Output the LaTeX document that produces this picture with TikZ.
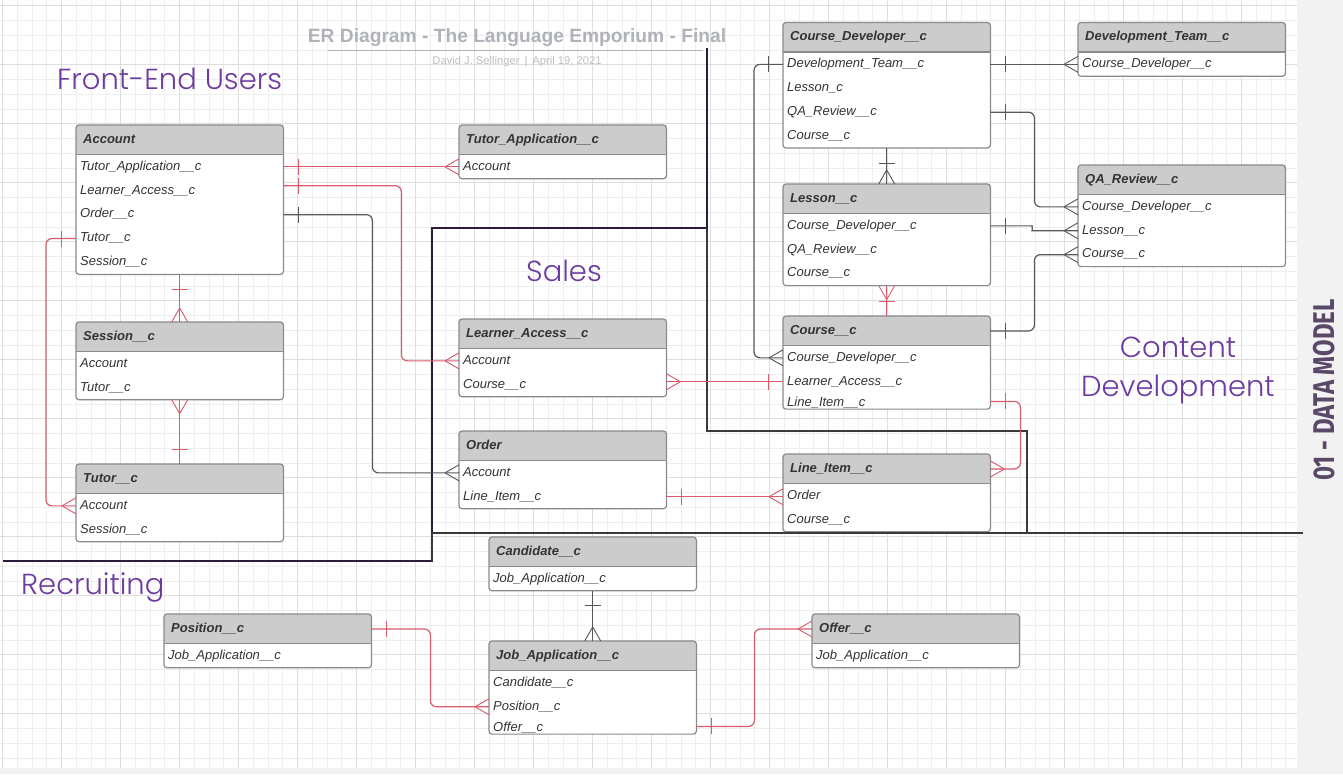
\documentclass[tikz,border=0pt]{standalone}
\usepackage{fontspec}
\setmainfont{Liberation Sans}
\newfontfamily\regionfont{Poppins Light}
\newfontfamily\sidefont[FakeStretch=0.8]{Fira Sans}
\usetikzlibrary{positioning, fit, backgrounds, decorations.markings}
\definecolor{hdrgray}{RGB}{204, 204, 204}
\definecolor{boxgray}{RGB}{138, 138, 138}
\definecolor{fieldtext}{RGB}{51, 51, 51}
\definecolor{relred}{RGB}{216, 92, 108}
\definecolor{relgray}{RGB}{88, 88, 88}
\definecolor{regionpurple}{RGB}{110, 60, 160}
\definecolor{borderdark}{RGB}{44, 28, 60}
\definecolor{bordergray}{RGB}{58, 58, 58}
\definecolor{titlegray}{RGB}{176, 178, 186}
\definecolor{subgray}{RGB}{190, 190, 195}
\definecolor{gridminor}{RGB}{238, 238, 238}
\definecolor{gridmajor}{RGB}{222, 222, 222}
\definecolor{pagegray}{RGB}{242, 242, 242}
\definecolor{sidelabel}{RGB}{90, 72, 104}
\tikzset{
  tblhead/.style   = {rectangle, inner xsep=7pt, inner ysep=0pt, text width=193pt, minimum height=29.5pt, align=left, text height=9.5pt, text depth=3pt, font=\fontsize{13}{15}\selectfont\bfseries\itshape, text=fieldtext},
  tblrow/.style    = {rectangle, inner xsep=4pt, inner ysep=0pt, text width=199pt, minimum height=23.5pt, align=left, text height=9.5pt, text depth=3pt, font=\fontsize{13}{15}\selectfont\itshape, text=fieldtext},
  tbllast/.style   = {tblrow, minimum height=15pt, text height=13pt, text depth=2pt},
  tblbox/.style    = {draw=boxgray, line width=1.2pt, fill=white, rounded corners=3pt, inner sep=0pt,
                      path picture={\fill[hdrgray] (path picture bounding box.north west) rectangle ([yshift=-29.5pt]path picture bounding box.north east);
                                    \draw[boxgray, line width=1.4pt] ([yshift=-29.5pt]path picture bounding box.north west) -- ([yshift=-29.5pt]path picture bounding box.north east);}},
  linkred/.style   = {relred, line width=1.2pt, rounded corners=6pt},
  linkgray/.style  = {relgray, line width=1.2pt, rounded corners=6pt},
  onestart/.style  = {postaction={decorate, decoration={markings, mark=at position 15pt with {\draw[line width=1pt] (0pt,-8pt) -- (0pt,8pt);}}}},
  oneend/.style    = {postaction={decorate, decoration={markings, mark=at position -15pt with {\draw[line width=1pt] (0pt,-8pt) -- (0pt,8pt);}}}},
  manystart/.style = {postaction={decorate, decoration={markings, mark=at position 0pt with {\draw[line width=0.9pt] (14pt,0pt) -- (0pt,8pt) (14pt,0pt) -- (0pt,-8pt);}}}},
  manyend/.style   = {postaction={decorate, decoration={markings, mark=at position 1 with {\draw[line width=0.9pt] (-14pt,0pt) -- (0pt,8pt) (-14pt,0pt) -- (0pt,-8pt);}}}},
  gridfine/.style  = {gridminor, line width=0.8pt},
  gridbold/.style  = {gridmajor, line width=0.9pt},
  regionlbl/.style = {font=\regionfont\fontsize{29}{39}\selectfont, text=regionpurple, inner sep=0pt},
  zonedark/.style  = {borderdark, line width=2pt},
  zonegray/.style  = {bordergray, line width=2pt},
}

\begin{document}
\begin{tikzpicture}[x=1pt, y=-1pt]
  \useasboundingbox (0,0) rectangle (1343,774);
  \begin{scope}[on background layer]
    \fill[pagegray] (0,0) rectangle (1343,774);
    \fill[white] (0,0) rectangle (1297,768);
    \foreach \k in {0,...,87} \draw[gridfine] ({2.5+14.75*\k},0) -- ({2.5+14.75*\k},768);
    \foreach \k in {0,...,51} \draw[gridfine] (0,{5.7+14.75*\k}) -- (1297,{5.7+14.75*\k});
    \foreach \k in {0,...,21} \draw[gridbold] ({2.5+59*\k},0) -- ({2.5+59*\k},768);
    \foreach \k in {0,...,12} \draw[gridbold] (0,{5.7+59*\k}) -- (1297,{5.7+59*\k});
  \end{scope}

  % title block
  \node[font=\fontsize{19.2}{22}\selectfont\bfseries, text=titlegray] (title) at (517,38) {ER Diagram - The Language Emporium - Final};
  \draw[titlegray, line width=1.5pt] (328,50.7) -- (703,50.7);
  \node[font=\fontsize{11.2}{13}\selectfont, text=subgray] (subtitle) at (517,62) {David J. Sellinger \,|\, April 19, 2021};

  % zones
  \draw[zonedark] (3,561) -- (432,561) -- (432,228) -- (707,228) -- (707,48);
  \draw[zonegray] (707,228) -- (707,431) -- (1027,431) -- (1027,533);
  \draw[zonegray] (432,561) -- (432,533) -- (1303,533);
  \node[regionlbl, anchor=base west] (lbl-feu) at (57,89) {Front-End Users};
  \node[regionlbl, anchor=base] (lbl-sales) at (564,281) {Sales};
  \node[regionlbl, align=center] (lbl-cdev) at (1178,370) {Content\\Development};
  \node[regionlbl, anchor=base west] (lbl-recr) at (21,594) {Recruiting};
  \node[rotate=90, font=\sidefont\bfseries\fontsize{30}{30}\selectfont, text=sidelabel] (lbl-side) at (1324,390) {01 - DATA MODEL};

  % Front-End Users
  \node[tblhead, anchor=north west] (acct) at (76,125) {Account};
  \node[tblrow, below=0pt of acct] (acct-tapp) {Tutor\_Application\_\_c};
  \node[tblrow, below=0pt of acct-tapp] (acct-lacc) {Learner\_Access\_\_c};
  \node[tblrow, below=0pt of acct-lacc] (acct-ord) {Order\_\_c};
  \node[tblrow, below=0pt of acct-ord] (acct-tut) {Tutor\_\_c};
  \node[tblrow, below=0pt of acct-tut] (acct-ses) {Session\_\_c};

  \node[tblhead, anchor=north west] (tapp) at (459,125) {Tutor\_Application\_\_c};
  \node[tblrow, below=0pt of tapp] (tapp-acct) {Account};

  \node[tblhead, anchor=north west] (ses) at (76,322) {Session\_\_c};
  \node[tblrow, below=0pt of ses] (ses-acct) {Account};
  \node[tblrow, below=0pt of ses-acct] (ses-tut) {Tutor\_\_c};

  \node[tblhead, anchor=north west] (tut) at (76,464) {Tutor\_\_c};
  \node[tblrow, below=0pt of tut] (tut-acct) {Account};
  \node[tblrow, below=0pt of tut-acct] (tut-ses) {Session\_\_c};

  % Sales
  \node[tblhead, anchor=north west] (lacc) at (459,319) {Learner\_Access\_\_c};
  \node[tblrow, below=0pt of lacc] (lacc-acct) {Account};
  \node[tblrow, below=0pt of lacc-acct] (lacc-crs) {Course\_\_c};

  \node[tblhead, anchor=north west] (ord) at (459,431) {Order};
  \node[tblrow, below=0pt of ord] (ord-acct) {Account};
  \node[tblrow, below=0pt of ord-acct] (ord-li) {Line\_Item\_\_c};

  % Content Development
  \node[tblhead, anchor=north west] (cdev) at (783,22.5) {Course\_Developer\_\_c};
  \node[tblrow, below=0pt of cdev] (cdev-dt) {Development\_Team\_\_c};
  \node[tblrow, below=0pt of cdev-dt] (cdev-les) {Lesson\_c};
  \node[tblrow, below=0pt of cdev-les] (cdev-qa) {QA\_Review\_\_c};
  \node[tblrow, below=0pt of cdev-qa] (cdev-crs) {Course\_\_c};

  \node[tblhead, anchor=north west] (dt) at (1078,22.5) {Development\_Team\_\_c};
  \node[tblrow, below=0pt of dt] (dt-cdev) {Course\_Developer\_\_c};

  \node[tblhead, anchor=north west] (qa) at (1078,165) {QA\_Review\_\_c};
  \node[tblrow, below=0pt of qa] (qa-cdev) {Course\_Developer\_\_c};
  \node[tblrow, below=0pt of qa-cdev] (qa-les) {Lesson\_\_c};
  \node[tblrow, below=0pt of qa-les] (qa-crs) {Course\_\_c};

  \node[tblhead, anchor=north west] (les) at (783,184) {Lesson\_\_c};
  \node[tblrow, below=0pt of les] (les-cdev) {Course\_Developer\_\_c};
  \node[tblrow, below=0pt of les-cdev] (les-qa) {QA\_Review\_\_c};
  \node[tblrow, below=0pt of les-qa] (les-crs) {Course\_\_c};

  \node[tblhead, anchor=north west] (crs) at (783,316) {Course\_\_c};
  \node[tblrow, below=0pt of crs] (crs-cdev) {Course\_Developer\_\_c};
  \node[tblrow, below=0pt of crs-cdev] (crs-lacc) {Learner\_Access\_\_c};
  \node[tbllast, below=0pt of crs-lacc] (crs-li) {Line\_Item\_\_c};

  \node[tblhead, anchor=north west] (li) at (783,454) {Line\_Item\_\_c};
  \node[tblrow, below=0pt of li] (li-ord) {Order};
  \node[tblrow, below=0pt of li-ord] (li-crs) {Course\_\_c};

  % Recruiting
  \node[tblhead, anchor=north west] (cand) at (489,537) {Candidate\_\_c};
  \node[tblrow, below=0pt of cand] (cand-japp) {Job\_Application\_\_c};

  \node[tblhead, anchor=north west] (japp) at (489,641) {Job\_Application\_\_c};
  \node[tblrow, below=0pt of japp] (japp-cand) {Candidate\_\_c};
  \node[tblrow, below=0pt of japp-cand] (japp-pos) {Position\_\_c};
  \node[tbllast, below=0pt of japp-pos] (japp-off) {Offer\_\_c};

  \node[tblhead, anchor=north west] (pos) at (164,614) {Position\_\_c};
  \node[tblrow, below=0pt of pos] (pos-japp) {Job\_Application\_\_c};

  \node[tblhead, anchor=north west] (off) at (812,614) {Offer\_\_c};
  \node[tblrow, below=0pt of off] (off-japp) {Job\_Application\_\_c};

  \begin{scope}[on background layer]
    \node[tblbox, fit=(acct)(acct-ses)] (acct-box) {};
    \node[tblbox, fit=(tapp)(tapp-acct)] (tapp-box) {};
    \node[tblbox, fit=(ses)(ses-tut)] (ses-box) {};
    \node[tblbox, fit=(tut)(tut-ses)] (tut-box) {};
    \node[tblbox, fit=(lacc)(lacc-crs)] (lacc-box) {};
    \node[tblbox, fit=(ord)(ord-li)] (ord-box) {};
    \node[tblbox, fit=(cdev)(cdev-crs)] (cdev-box) {};
    \node[tblbox, fit=(dt)(dt-cdev)] (dt-box) {};
    \node[tblbox, fit=(qa)(qa-crs)] (qa-box) {};
    \node[tblbox, fit=(les)(les-crs)] (les-box) {};
    \node[tblbox, fit=(crs)(crs-li)] (crs-box) {};
    \node[tblbox, fit=(li)(li-crs)] (li-box) {};
    \node[tblbox, fit=(cand)(cand-japp)] (cand-box) {};
    \node[tblbox, fit=(japp)(japp-off)] (japp-box) {};
    \node[tblbox, fit=(pos)(pos-japp)] (pos-box) {};
    \node[tblbox, fit=(off)(off-japp)] (off-box) {};
  \end{scope}

  % relationships
  \draw[linkred, onestart, manyend] (acct-tapp.east) -- (tapp-acct.west);
  \draw[linkred, onestart, manyend] ([yshift=5pt]acct-lacc.east) -- ++(118,0) |- (lacc-acct.west);
  \draw[linkgray, onestart, manyend] (acct-ord.east) -- ++(89,0) |- (ord-acct.west);
  \draw[linkred, onestart, manyend] (acct-tut.west) -- ++(-30,0) |- (tut-acct.west);
  \draw[linkred, onestart, manyend] (acct-ses.south) -- (ses.north);
  \draw[linkred, manystart, oneend] (ses-tut.south) -- (tut.north);

  \draw[linkred, manystart, oneend] (lacc-crs.east |- crs-lacc.west) -- (crs-lacc.west);
  \draw[linkred, onestart, manyend] (ord-li.east) -- (ord-li.east -| li-ord.west);

  \draw[linkred, onestart, manyend] (crs-li.east) -- ++(30,0) |- (li.east);
  \draw[linkgray, onestart, manyend] (cdev-dt.east) -- (dt-cdev.west);
  \draw[linkgray, onestart, manyend] (cdev-dt.west) -- ++(-29,0) |- (crs-cdev.west);
  \draw[linkgray, onestart, manyend] (cdev-crs.south) -- (les.north);
  \draw[linkgray, onestart, manyend] (cdev-qa.east) -- ++(44,0) |- (qa-cdev.west);
  \draw[linkgray, onestart, manyend] (les-cdev.east) -- ++(36,0) to[out=0, in=180] ([xshift=-40pt]qa-les.west) -- (qa-les.west);
  \draw[linkgray, onestart, manyend] (crs.east) -- ++(44,0) |- (qa-crs.west);
  \draw[linkred, manystart, oneend] (les-crs.south) -- (crs.north);

  \draw[linkgray, onestart, manyend] (cand-japp.south) -- (japp.north);
  \draw[linkred, onestart, manyend] (pos.east) -- ++(59,0) |- (japp-pos.west);
  \draw[linkred, onestart, manyend] (japp-off.east) -- ++(58,0) |- (off.west);
\end{tikzpicture}
\end{document}
